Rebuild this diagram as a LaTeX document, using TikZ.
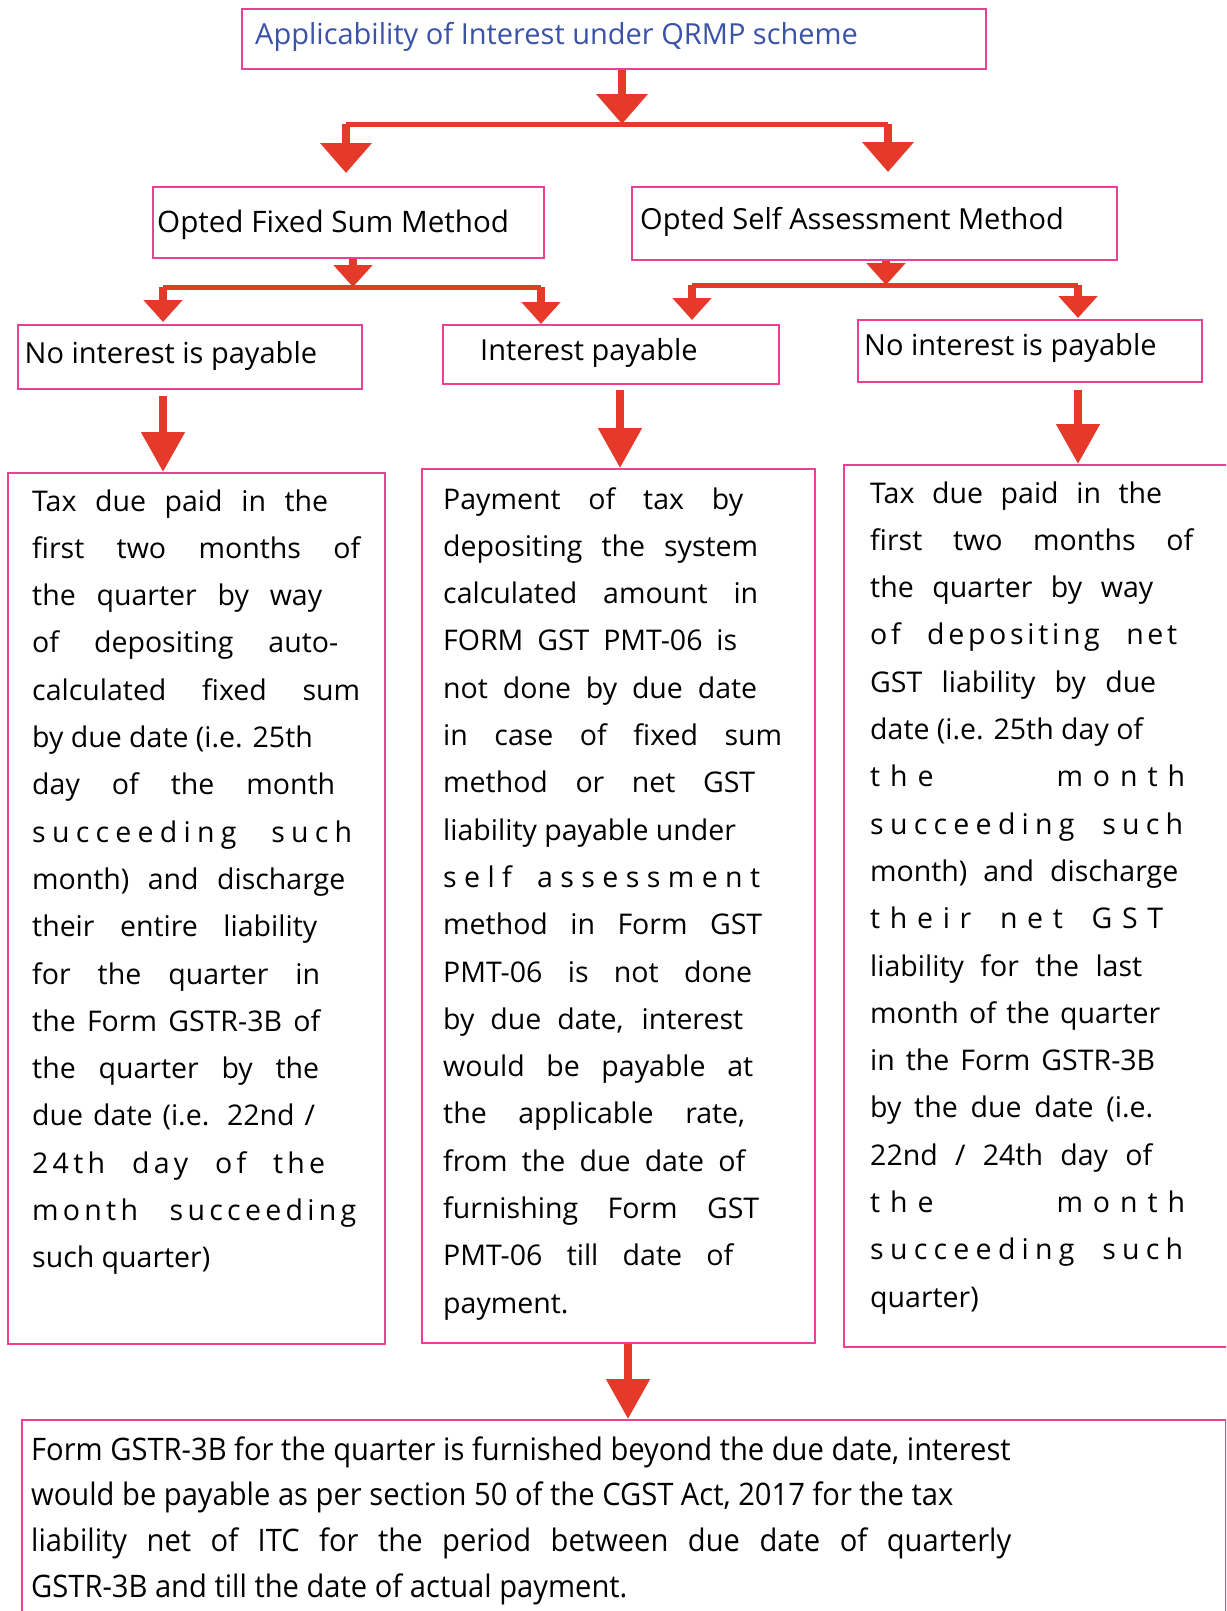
\documentclass[tikz,border=0pt]{standalone}
\usepackage{fontspec}
\setmainfont{Open Sans}
\newfontfamily\condfont[FakeStretch=0.94]{Open Sans}
\usetikzlibrary{arrows.meta}
\definecolor{boxpink}{RGB}{236,64,150}
\definecolor{arrowred}{RGB}{229,58,42}
\definecolor{titleblue}{RGB}{58,82,168}
% one text line stretched to a given width, a natural line, letter-spaced words
\newcommand\jl[2]{\hbox to #1pt{#2}}
\newcommand\nl[1]{\hbox{#1}}
\newcommand\ls[2]{{\addfontfeature{LetterSpace=#1}#2}}
\begin{document}
\begin{tikzpicture}[x=1pt,y=-1pt,
  box/.style={draw=boxpink,line width=2.2pt,inner sep=0pt,anchor=north west},
  hdr/.style={anchor=base west,inner sep=0pt,font=\fontsize{29}{34}\selectfont},
  para/.style={anchor=base west,inner sep=0pt},
  bar/.style={draw=arrowred,line width=5pt},
  bigdrop/.style={draw=arrowred,line width=8pt,-{Triangle[width=50pt,length=30pt]}},
  smalldrop/.style={draw=arrowred,line width=8pt,-{Triangle[width=38pt,length=22pt]}},
  longdrop/.style={draw=arrowred,line width=8pt,-{Triangle[width=42pt,length=40pt]}}]
\clip (0,0) rectangle (1226,1611);
\fill[white] (0,0) rectangle (1226,1611);

% boxes
\node[box,minimum width=744pt,minimum height=60pt] (top) at (241,8) {};
\node[box,minimum width=391pt,minimum height=71pt] (fixed) at (152,186) {};
\node[box,minimum width=485pt,minimum height=73pt] (self) at (631,186) {};
\node[box,minimum width=344pt,minimum height=64pt] (noint1) at (17,324) {};
\node[box,minimum width=336pt,minimum height=59pt] (int) at (442,324) {};
\node[box,minimum width=344pt,minimum height=62pt] (noint2) at (857,319) {};
\node[box,minimum width=377pt,minimum height=871pt] (bodyl) at (7,472) {};
\node[box,minimum width=393pt,minimum height=874pt] (bodym) at (421,468) {};
\node[box,minimum width=390pt,minimum height=882pt] (bodyr) at (843,464) {};
\node[box,minimum width=1204pt,minimum height=200pt] (late) at (21,1419) {};

% box headings
\node[hdr,text=titleblue] (ttl) at (255,45) {Applicability of Interest under QRMP scheme};
\node[hdr,font=\fontsize{29.6}{34}\selectfont] (tfixed) at (157,232) {Opted Fixed Sum Method};
\node[hdr] (tself) at (640,229) {Opted Self Assessment Method};
\node[hdr] (tno1) at (24.5,363) {No interest is payable};
\node[hdr] (tint) at (480,360) {Interest payable};
\node[hdr] (tno2) at (864,355) {No interest is payable};

% junction points of the connectors
\coordinate (jt) at (622,124);
\coordinate (bl) at (346,124);
\coordinate (br) at (888,124);
\coordinate (jf) at (353,287);
\coordinate (fl) at (163,287);
\coordinate (fr) at (541,287);
\coordinate (js) at (886,285);
\coordinate (sl) at (692,285);
\coordinate (sr) at (1078,285);
\coordinate (cm) at (620,0);
\coordinate (cb) at (628,0);

% first split
\draw[bigdrop] (jt |- top.south) -- (jt);
\draw[bar] (bl) -- (br);
\draw[bigdrop,shorten >=13pt] (bl) -- (bl |- fixed.north);
\draw[bigdrop,shorten >=14pt] (br) -- (br |- self.north);

% fixed sum split
\draw[smalldrop] (jf |- fixed.south) -- (jf);
\draw[bar] (fl) -- (fr);
\draw[smalldrop,shorten >=2pt] (fl) -- (fl |- noint1.north);
\draw[smalldrop] (fr) -- (fr |- int.north);

% self assessment split
\draw[smalldrop] (js |- self.south) -- (js);
\draw[bar] (sl) -- (sr);
\draw[smalldrop,shorten >=4pt] (sl) -- (sl |- int.north);
\draw[smalldrop,shorten >=1pt] (sr) -- (sr |- noint2.north);

% into the detail boxes
\draw[longdrop,shorten <=6pt] (fl |- noint1.south) -- (fl |- bodyl.north);
\draw[longdrop,shorten <=5pt] (cm |- int.south) -- (cm |- bodym.north);
\draw[longdrop,shorten <=7pt] (sr |- noint2.south) -- (sr |- bodyr.north);
\draw[longdrop] (cb |- bodym.south) -- (cb |- late.north);

% detail texts
\node[para] (pl) at (32,511) {\vtop{\fontsize{28.5}{47.3}\selectfont
\jl{296}{Tax due paid in the}
\jl{328}{first two months of}
\jl{290}{the quarter by way}
\jl{306}{of depositing auto-}
\jl{328}{calculated fixed sum}
\nl{by due date (i.e. 25th}
\jl{303}{day of the month}
\jl{320}{\ls{22}{succeeding} \ls{22}{such}}
\jl{313}{month) and discharge}
\jl{285}{their entire liability}
\jl{288}{for the quarter in}
\jl{288}{the Form GSTR-3B of}
\jl{287}{the quarter by the}
\jl{283}{due date (i.e. 22nd /}
\jl{293}{\ls{15}{24th} \ls{15}{day} \ls{15}{of} \ls{15}{the}}
\jl{324}{\ls{15}{month} \ls{15}{succeeding}}
\nl{such quarter)}}};

\node[para] (pm) at (443,509) {\vtop{\fontsize{28.5}{47.3}\selectfont
\jl{300}{Payment of tax by}
\jl{315}{depositing the system}
\jl{315}{calculated amount in}
\jl{294}{FORM GST PMT-06 is}
\jl{314}{not done by due date}
\jl{339}{in case of fixed sum}
\jl{312}{method or net GST}
\nl{liability payable under}
\jl{317}{\ls{26}{self} \ls{26}{assessment}}
\jl{319}{method in Form GST}
\jl{309}{PMT-06 is not done}
\jl{300}{by due date, interest}
\jl{310}{would be payable at}
\jl{302}{the applicable rate,}
\jl{302}{from the due date of}
\jl{316}{furnishing Form GST}
\jl{290}{PMT-06 till date of}
\nl{payment.}}};

\node[para] (pr) at (870,503) {\vtop{\fontsize{28.5}{47.3}\selectfont
\jl{292}{Tax due paid in the}
\jl{323}{first two months of}
\jl{283}{the quarter by way}
\jl{307}{\ls{13}{of} \ls{13}{depositing} \ls{13}{net}}
\jl{286}{GST liability by due}
\nl{date (i.e. 25th day of}
\jl{315}{\ls{35}{the}\hfill\ls{35}{month}}
\jl{313}{\ls{22}{succeeding} \ls{22}{such}}
\jl{308}{month) and discharge}
\jl{293}{\ls{34}{their} \ls{34}{net} \ls{34}{GST}}
\jl{272}{liability for the last}
\jl{290}{month of the quarter}
\jl{285}{in the Form GSTR-3B}
\jl{283}{by the due date (i.e.}
\jl{282}{22nd / 24th day of}
\jl{315}{\ls{35}{the}\hfill\ls{35}{month}}
\jl{313}{\ls{22}{succeeding} \ls{22}{such}}
\nl{quarter)}}};

\node[para] (pb) at (31,1460) {\vtop{\condfont\fontsize{31}{45.8}\selectfont
\nl{Form GSTR-3B for the quarter is furnished beyond the due date, interest}
\nl{would be payable as per section 50 of the CGST Act, 2017 for the tax}
\jl{980}{liability net of ITC for the period between due date of quarterly}
\nl{GSTR-3B and till the date of actual payment.}}};
\end{tikzpicture}
\end{document}
